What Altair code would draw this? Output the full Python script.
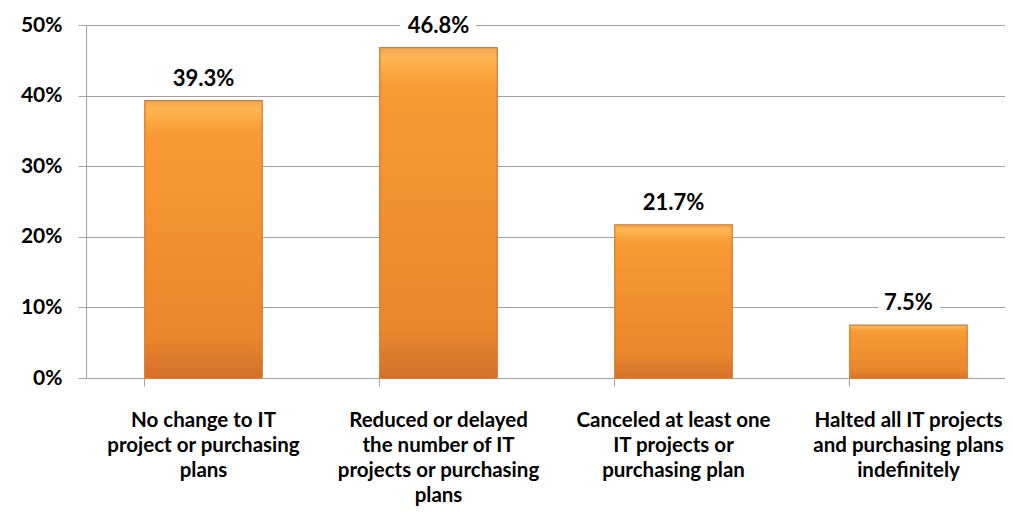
import altair as alt
import pandas as pd

categories = [
    "No change to IT|project or purchasing|plans",
    "Reduced or delayed|the number of IT|projects or purchasing|plans",
    "Canceled at least one|IT projects or|purchasing plan",
    "Halted all IT projects|and purchasing plans|indefinitely",
]
values = [39.3, 46.8, 21.7, 7.5]
y_ticks = [0, 10, 20, 30, 40, 50]

df = pd.DataFrame({"cat": categories, "val": values})
df["lbl"] = [f"{v:.1f}%" for v in values]

FONT = "Lato"

x = alt.X(
    "cat:N",
    sort=categories,
    scale=alt.Scale(range=[0, 940], paddingInner=0.5, paddingOuter=0.25),
    axis=alt.Axis(
        title=None,
        labelAngle=0,
        labelExpr="split(datum.label, '|')",
        labelFont=FONT,
        labelFontSize=20.5,
        labelFontWeight="bold",
        labelColor="#000000",
        labelLineHeight=25,
        labelPadding=24,
        labelBaseline="top",
        labelLimit=0,
        bandPosition=0,
        ticks=True,
        tickSize=8,
        tickColor="#A0A0A0",
        domainColor="#A0A0A0",
        grid=False,
    ),
)

y = alt.Y(
    "val:Q",
    scale=alt.Scale(domain=[0, 50], nice=False),
    axis=alt.Axis(
        title=None,
        values=y_ticks,
        labelExpr="datum.value + '%'",
        labelFont=FONT,
        labelFontSize=21,
        labelFontWeight="bold",
        labelColor="#000000",
        labelPadding=16,
        tickSize=8,
        tickColor="#A0A0A0",
        domainColor="#A0A0A0",
        gridColor="#A0A0A0",
        gridWidth=1,
    ),
)

grad = alt.Gradient(
    gradient="linear",
    x1=0, x2=0, y1=0, y2=1,
    stops=[
        alt.GradientStop(offset=0.0, color="#F4A450"),
        alt.GradientStop(offset=0.03, color="#FCB652"),
        alt.GradientStop(offset=0.12, color="#F99A34"),
        alt.GradientStop(offset=0.85, color="#EA862D"),
        alt.GradientStop(offset=1.0, color="#D37129"),
    ],
)

base = alt.Chart(df)

bars = base.mark_bar(fill=grad, stroke="#D8792B", strokeWidth=1.2).encode(x=x, y=y)

halo = base.mark_text(
    font=FONT, fontSize=22, fontWeight="bold", dy=-22,
    color="white", stroke="white", strokeWidth=16, strokeJoin="round",
).encode(x=alt.X("cat:N", sort=categories), y="val:Q", text="lbl:N")

labels = base.mark_text(
    font=FONT, fontSize=22, fontWeight="bold", dy=-22, color="#000000",
).encode(x=alt.X("cat:N", sort=categories), y="val:Q", text="lbl:N")

chart = (
    alt.layer(bars, halo, labels)
    .properties(
        width=919,
        height=353,
        autosize=alt.AutoSizeParams(type="none"),
        padding={"left": 78, "top": 17, "right": 0, "bottom": 135},
    )
    .configure_view(stroke=None)
    .configure(background="white")
)

chart.save("out.html", embed_options={"renderer": "svg", "actions": False})
